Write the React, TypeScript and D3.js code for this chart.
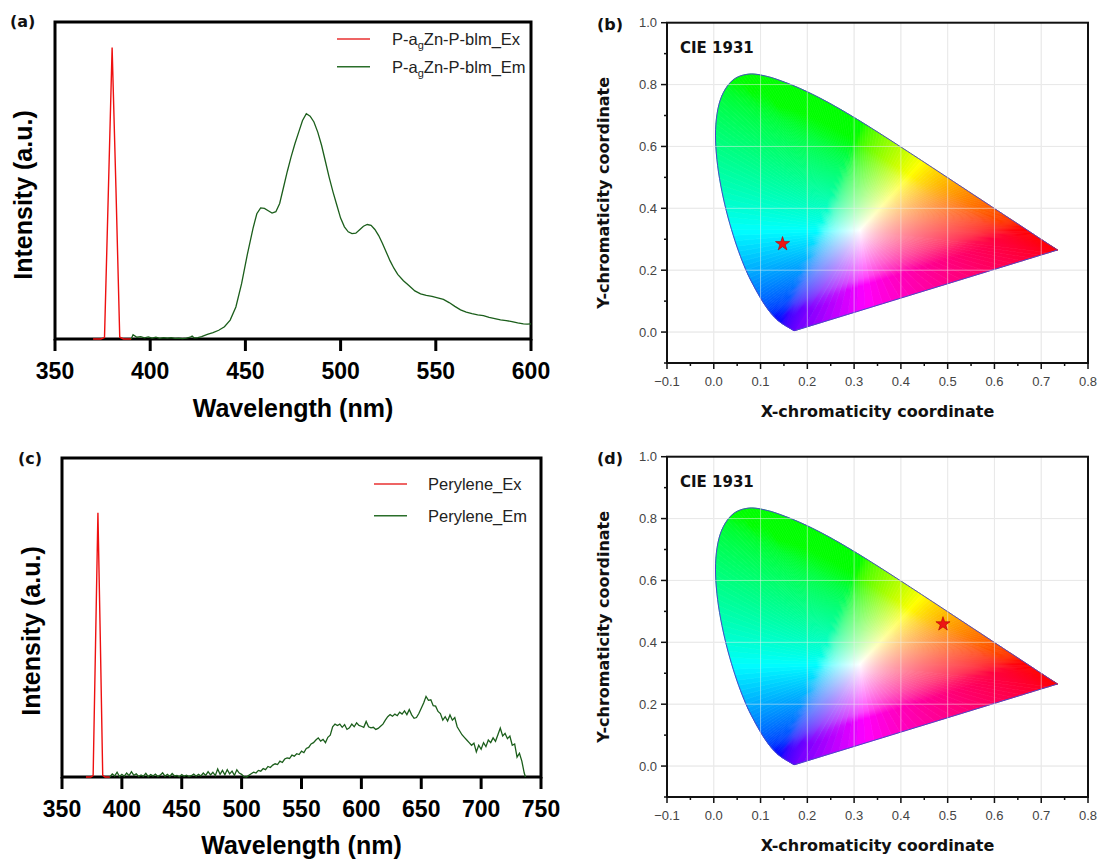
import React from 'react';
import * as d3 from 'd3';

// ---------- Data: panel (a) P-agZn-P-blm ----------
const exAWl = [370, 372, 374, 376, 378, 380, 382, 384, 386, 388, 390];
const exAVal = [0, 0, 0, 0.005, 0.5, 1.0, 0.52, 0.006, 0, 0, 0];

const emAWl = [390, 391, 393, 395, 397, 399, 401, 403, 405, 407, 409, 411, 413, 415, 417, 419, 421, 422, 423, 425, 427, 430, 433, 436, 439, 442, 445, 448, 451, 454, 456, 458, 460, 462, 464, 466, 468, 470, 472, 474, 476, 478, 480, 482, 484, 486, 488, 490, 492, 494, 496, 498, 500, 502, 504, 506, 508, 510, 512, 514, 516, 518, 520, 522, 524, 526, 528, 530, 533, 536, 539, 542, 545, 548, 551, 554, 557, 560, 563, 566, 569, 572, 575, 578, 581, 584, 587, 590, 593, 596, 598, 600];
const emAVal = [0.0, 0.015, 0.006, 0.008, 0.004, 0.007, 0.003, 0.006, 0.002, 0.005, 0.003, 0.005, 0.002, 0.003, 0.001, 0.003, 0.006, 0.01, 0.004, 0.005, 0.008, 0.016, 0.022, 0.03, 0.042, 0.065, 0.11, 0.19, 0.29, 0.38, 0.43, 0.45, 0.448, 0.44, 0.432, 0.437, 0.465, 0.52, 0.575, 0.625, 0.67, 0.71, 0.75, 0.773, 0.765, 0.745, 0.71, 0.665, 0.61, 0.555, 0.505, 0.46, 0.415, 0.385, 0.368, 0.362, 0.363, 0.375, 0.387, 0.393, 0.39, 0.376, 0.355, 0.328, 0.298, 0.268, 0.243, 0.222, 0.2, 0.183, 0.165, 0.155, 0.15, 0.146, 0.141, 0.136, 0.125, 0.112, 0.1, 0.092, 0.087, 0.083, 0.08, 0.074, 0.07, 0.066, 0.063, 0.06, 0.055, 0.052, 0.051, 0.052];

// ---------- Data: panel (c) Perylene ----------
const exCWl = [370, 372, 374, 376, 378, 380, 382, 384, 386, 388, 390];
const exCVal = [0, 0, 0, 0.005, 0.5, 1.0, 0.52, 0.006, 0, 0, 0];

const emCWl = [390, 392, 394, 396, 398, 400, 402, 404, 406, 408, 410, 412, 414, 416, 418, 420, 422, 424, 426, 428, 430, 432, 434, 436, 438, 440, 442, 444, 446, 448, 450, 452, 454, 456, 458, 460, 462, 464, 466, 468, 470, 472, 474, 476, 478, 480, 482, 484, 486, 488, 490, 492, 494, 496, 498, 500, 502, 504, 506, 508, 510, 512, 514, 516, 518, 520, 522, 524, 526, 528, 530, 532, 534, 536, 538, 540, 542, 544, 546, 548, 550, 552, 554, 556, 558, 560, 562, 564, 566, 568, 570, 572, 574, 576, 578, 580, 582, 584, 586, 588, 590, 592, 594, 596, 598, 600, 602, 604, 606, 608, 610, 612, 614, 616, 618, 620, 622, 624, 626, 628, 630, 632, 634, 636, 638, 640, 642, 644, 646, 648, 650, 652, 654, 656, 658, 660, 662, 664, 666, 668, 670, 672, 674, 676, 678, 680, 682, 684, 686, 688, 690, 692, 694, 696, 698, 700, 702, 704, 706, 708, 710, 712, 714, 716, 718, 720, 722, 724, 726, 728, 730, 732, 734, 736, 737];
const emCVal = [0, 0.012, 0.004, 0.018, 0.002, 0.01, 0.003, 0.015, 0.005, 0.02, 0.006, 0.012, 0.002, 0.008, 0.003, 0.014, 0.001, 0.009, 0.004, 0.011, 0.002, 0.007, 0.016, 0.003, 0.01, 0.002, 0.013, 0.004, 0.006, 0.001, 0.009, 0.003, 0.007, 0.002, 0.005, 0.011, 0.003, 0.01, 0.004, 0.015, 0.006, 0.02, 0.008, 0.018, 0.005, 0.03, 0.01, 0.025, 0.008, 0.028, 0.012, 0.022, 0.006, 0.027, 0.015, 0.01, 0.001, 0.0, 0.006, 0.012, 0.018, 0.015, 0.025, 0.022, 0.032, 0.028, 0.04, 0.036, 0.045, 0.05, 0.047, 0.06, 0.055, 0.068, 0.072, 0.07, 0.083, 0.079, 0.088, 0.085, 0.098, 0.092, 0.108, 0.112, 0.125, 0.13, 0.14, 0.148, 0.136, 0.142, 0.13, 0.15, 0.158, 0.19, 0.2, 0.195, 0.2, 0.188, 0.198, 0.18, 0.186, 0.2, 0.19, 0.205, 0.195, 0.192, 0.188, 0.21, 0.19, 0.186, 0.188, 0.18, 0.184, 0.192, 0.2, 0.215, 0.228, 0.236, 0.23, 0.238, 0.232, 0.245, 0.238, 0.25, 0.236, 0.255, 0.235, 0.222, 0.225, 0.24, 0.26, 0.28, 0.305, 0.29, 0.292, 0.27, 0.268, 0.248, 0.24, 0.215, 0.228, 0.212, 0.235, 0.215, 0.225, 0.19, 0.175, 0.16, 0.15, 0.14, 0.13, 0.12, 0.128, 0.095, 0.12, 0.105, 0.13, 0.115, 0.14, 0.13, 0.148, 0.135, 0.16, 0.185, 0.155, 0.165, 0.145, 0.155, 0.12, 0.125, 0.075, 0.09, 0.06, 0.015, 0];

const xTicksA = [350, 400, 450, 500, 550, 600];
const xTicksC = [350, 400, 450, 500, 550, 600, 650, 700, 750];

// ---------- Data: CIE 1931 spectral locus (x, y) ----------
const locusWl = [380, 400, 410, 420, 430, 435, 440, 445, 450, 455, 460, 465, 470, 475, 480, 485, 490, 495, 500, 505, 510, 515, 520, 525, 530, 535, 540, 545, 550, 555, 560, 565, 570, 575, 580, 585, 590, 595, 600, 605, 610, 620, 630, 640, 650, 660, 680, 700];
const locusX = [0.1741, 0.1733, 0.1726, 0.1714, 0.1689, 0.1669, 0.1644, 0.1611, 0.1566, 0.1510, 0.1440, 0.1355, 0.1241, 0.1096, 0.0913, 0.0687, 0.0454, 0.0235, 0.0082, 0.0039, 0.0139, 0.0389, 0.0743, 0.1142, 0.1547, 0.1929, 0.2296, 0.2658, 0.3016, 0.3373, 0.3731, 0.4087, 0.4441, 0.4788, 0.5125, 0.5448, 0.5752, 0.6029, 0.6270, 0.6482, 0.6658, 0.6915, 0.7079, 0.7190, 0.7260, 0.7300, 0.7334, 0.7347];
const locusY = [0.0050, 0.0048, 0.0048, 0.0051, 0.0069, 0.0086, 0.0109, 0.0138, 0.0177, 0.0227, 0.0297, 0.0399, 0.0578, 0.0868, 0.1327, 0.2007, 0.2950, 0.4127, 0.5384, 0.6548, 0.7502, 0.8120, 0.8338, 0.8262, 0.8059, 0.7816, 0.7543, 0.7243, 0.6923, 0.6589, 0.6245, 0.5896, 0.5547, 0.5202, 0.4866, 0.4544, 0.4242, 0.3965, 0.3725, 0.3514, 0.3340, 0.3083, 0.2920, 0.2809, 0.2740, 0.2700, 0.2666, 0.2653];
const whitePoint = [0.3127, 0.329];

const starB = [0.147, 0.285];
const starD = [0.49, 0.459];

const cieXTicks = [-0.1, 0, 0.1, 0.2, 0.3, 0.4, 0.5, 0.6, 0.7, 0.8];
const cieYTicks = [0, 0.2, 0.4, 0.6, 0.8, 1.0];

const ARIAL = "'Liberation Sans', Arial, Helvetica, sans-serif";
const VERD = "'DejaVu Sans', Verdana, sans-serif";

function xyToRgb(x: number, y: number): string {
  const Y = 1;
  const X = x / y;
  const Z = (1 - x - y) / y;
  let r = 3.2406 * X - 1.5372 * Y - 0.4986 * Z;
  let g = -0.9689 * X + 1.8758 * Y + 0.0415 * Z;
  let b = 0.0557 * X - 0.204 * Y + 1.057 * Z;
  r = Math.max(0, r); g = Math.max(0, g); b = Math.max(0, b);
  const m = Math.max(r, g, b) || 1;
  const gam = (c: number) => {
    const v = Math.pow(c / m, 1 / 2.0);
    return Math.round(Math.min(1, Math.max(0, v)) * 255);
  };
  return `rgb(${gam(r)},${gam(g)},${gam(b)})`;
}

function catmull(pts: number[][], sub: number): number[][] {
  const out: number[][] = [];
  const n = pts.length;
  for (let i = 0; i < n - 1; i++) {
    const p0 = pts[Math.max(0, i - 1)], p1 = pts[i], p2 = pts[i + 1], p3 = pts[Math.min(n - 1, i + 2)];
    for (let s = 0; s < sub; s++) {
      const t = s / sub, t2 = t * t, t3 = t2 * t;
      const f = (k: number) => 0.5 * (2 * p1[k] + (-p0[k] + p2[k]) * t + (2 * p0[k] - 5 * p1[k] + 4 * p2[k] - p3[k]) * t2 + (-p0[k] + 3 * p1[k] - 3 * p2[k] + p3[k]) * t3);
      out.push([f(0), f(1)]);
    }
  }
  out.push(pts[n - 1]);
  return out;
}

type SpecProps = {
  left: number; right: number; top: number; bottom: number;
  xDomain: [number, number]; xTicks: number[]; yMax: number;
  exWl: number[]; exVal: number[]; emWl: number[]; emVal: number[];
  legend: React.ReactNode[]; legX1: number; legX2: number; legTextX: number; legY: number[];
  panel: string; panelX: number; panelY: number;
  yTitleX: number; yTitleY: number; tickLabelY: number; xTitleY: number;
};

function SpectrumPanel(p: SpecProps) {
  const x = d3.scaleLinear().domain(p.xDomain).range([p.left, p.right]);
  const y = d3.scaleLinear().domain([0, p.yMax]).range([p.bottom, p.top]);
  const exPath = d3.line<number>().x((_, i) => x(p.exWl[i])).y((d) => y(d))(p.exVal) || '';
  const emPath = d3.line<number>().x((_, i) => x(p.emWl[i])).y((d) => y(d))(p.emVal) || '';
  return (
    <g>
      <text x={p.panelX} y={p.panelY} fontFamily={VERD} fontWeight="bold" fontSize={16} fill="#111">{p.panel}</text>
      <rect x={p.left} y={p.top} width={p.right - p.left} height={p.bottom - p.top} fill="none" stroke="#000" strokeWidth={3} />
      {p.xTicks.map((t) => (
        <g key={t}>
          <line x1={x(t)} x2={x(t)} y1={p.bottom} y2={p.bottom + 12} stroke="#000" strokeWidth={3} />
          <text x={x(t)} y={p.tickLabelY} textAnchor="middle" fontFamily={ARIAL} fontWeight="bold" fontSize={23} fill="#000">{t}</text>
        </g>
      ))}
      <path d={exPath} fill="none" stroke="#ee1010" strokeWidth={1.4} />
      <path d={emPath} fill="none" stroke="#1b5e1b" strokeWidth={1.3} />
      <text x={(p.left + p.right) / 2} y={p.xTitleY} textAnchor="middle" fontFamily={ARIAL} fontWeight="bold" fontSize={25} fill="#000">Wavelength (nm)</text>
      <text transform={`translate(${p.yTitleX},${p.yTitleY}) rotate(-90)`} textAnchor="middle" dominantBaseline="central" fontFamily={ARIAL} fontWeight="bold" fontSize={25} fill="#000">Intensity (a.u.)</text>
      {p.legend.map((lab, i) => (
        <g key={i}>
          <line x1={p.legX1} x2={p.legX2} y1={p.legY[i]} y2={p.legY[i]} stroke={i === 0 ? '#e83030' : '#2a6e2a'} strokeWidth={1.4} />
          <text x={p.legTextX} y={p.legY[i] + 6} fontFamily={ARIAL} fontSize={16.5} fill="#222">{lab}</text>
        </g>
      ))}
    </g>
  );
}

function CiePanel({ top, star, panel }: { top: number; star: number[]; panel: string }) {
  const left = 667, right = 1088;
  const bottom = top + 340.3;
  const x = d3.scaleLinear().domain([-0.1, 0.8]).range([left, right]);
  const y = d3.scaleLinear().domain([-0.1, 1.0]).range([bottom, top]);
  const fmt = d3.format('.1f');

  const locusPts = locusX.map((lx, i) => [lx, locusY[i]]);
  const dense = catmull(locusPts, 6);
  const first = dense[0], last = dense[dense.length - 1];
  const purple: number[][] = [];
  const nP = 30;
  for (let k = 1; k < nP; k++) {
    const t = k / nP;
    purple.push([last[0] + (first[0] - last[0]) * t, last[1] + (first[1] - last[1]) * t]);
  }
  const boundary = dense.concat(purple);
  const n = boundary.length;
  const W = whitePoint;
  const stopsT = [0, 0.03, 0.06, 0.1, 0.14, 0.18, 0.23, 0.28, 0.34, 0.4, 0.5, 0.6, 0.7, 0.8, 0.9, 1];
  const wedges = [] as { id: string; pts: string; x1: number; y1: number; x2: number; y2: number; stops: { o: number; c: string }[] }[];
  for (let i = 0; i < n; i++) {
    const P = boundary[i], Q = boundary[(i + 1) % n];
    const M = [(P[0] + Q[0]) / 2, (P[1] + Q[1]) / 2];
    const stops = stopsT.map((t) => {
      const px = W[0] + (M[0] - W[0]) * t;
      const py = W[1] + (M[1] - W[1]) * t;
      return { o: t, c: xyToRgb(px, py) };
    });
    wedges.push({
      id: `cie-${panel.replace(/[()]/g, '')}-${i}`,
      pts: `${x(W[0])},${y(W[1])} ${x(P[0])},${y(P[1])} ${x(Q[0])},${y(Q[1])}`,
      x1: x(W[0]), y1: y(W[1]), x2: x(M[0]), y2: y(M[1]), stops,
    });
  }
  const outline = (d3.line()(boundary.map((b) => [x(b[0]), y(b[1])] as [number, number])) || '') + 'Z';
  const starPath = d3.symbol().type(d3.symbolStar).size(62)() || '';
  const gridX = cieXTicks.slice(1, -1);
  const gridY = [0, 0.2, 0.4, 0.6, 0.8];
  const minorX = d3.range(-0.05, 0.8, 0.1);
  const minorY = [-0.1, 0.1, 0.3, 0.5, 0.7, 0.9];

  return (
    <g>
      <defs>
        {wedges.map((w) => (
          <linearGradient key={w.id} id={w.id} gradientUnits="userSpaceOnUse" x1={w.x1} y1={w.y1} x2={w.x2} y2={w.y2}>
            {w.stops.map((s, k) => <stop key={k} offset={s.o} stopColor={s.c} />)}
          </linearGradient>
        ))}
      </defs>
      {gridX.map((g) => <line key={'gx' + g} x1={x(g)} x2={x(g)} y1={top} y2={bottom} stroke="#e4e4e4" strokeWidth={1} />)}
      {gridY.map((g) => <line key={'gy' + g} x1={left} x2={right} y1={y(g)} y2={y(g)} stroke="#e4e4e4" strokeWidth={1} />)}
      {wedges.map((w) => (
        <polygon key={w.id} points={w.pts} fill={`url(#${w.id})`} stroke={`url(#${w.id})`} strokeWidth={0.7} strokeLinejoin="round" />
      ))}
      <path d={outline} fill="none" stroke="#4848c8" strokeWidth={1} />
      {gridX.map((g) => <line key={'ox' + g} x1={x(g)} x2={x(g)} y1={top} y2={bottom} stroke="rgba(240,240,240,0.5)" strokeWidth={1} />)}
      {gridY.map((g) => <line key={'oy' + g} x1={left} x2={right} y1={y(g)} y2={y(g)} stroke="rgba(240,240,240,0.5)" strokeWidth={1} />)}
      <path d={starPath} transform={`translate(${x(star[0])},${y(star[1])})`} fill="#ee1515" stroke="#b00000" strokeWidth={0.6} />
      <rect x={left} y={top} width={right - left} height={bottom - top} fill="none" stroke="#111" strokeWidth={2} />
      {cieXTicks.map((t) => (
        <g key={'xt' + t}>
          <line x1={x(t)} x2={x(t)} y1={bottom} y2={bottom + 6} stroke="#111" strokeWidth={1.5} />
          <text x={x(t)} y={bottom + 23} textAnchor="middle" fontFamily={ARIAL} fontSize={13} fill="#444">{fmt(t)}</text>
        </g>
      ))}
      {minorX.map((t) => <line key={'mx' + t} x1={x(t)} x2={x(t)} y1={bottom} y2={bottom + 3} stroke="#111" strokeWidth={1.5} />)}
      {cieYTicks.map((t) => (
        <g key={'yt' + t}>
          <line x1={left} x2={left - 6} y1={y(t)} y2={y(t)} stroke="#111" strokeWidth={1.5} />
          <text x={left - 10} y={y(t) + 4.5} textAnchor="end" fontFamily={ARIAL} fontSize={13} fill="#444">{fmt(t)}</text>
        </g>
      ))}
      {minorY.map((t) => <line key={'my' + t} x1={left} x2={left - 3} y1={y(t)} y2={y(t)} stroke="#111" strokeWidth={1.5} />)}
      <text x={680} y={top + 30} fontFamily={VERD} fontWeight="bold" fontSize={15} fill="#111">CIE 1931</text>
      <text x={597} y={top + 7} fontFamily={VERD} fontWeight="bold" fontSize={16} fill="#111">{panel}</text>
      <text x={(left + right) / 2} y={bottom + 54} textAnchor="middle" fontFamily={VERD} fontWeight="bold" fontSize={16} fill="#111">X-chromaticity coordinate</text>
      <text transform={`translate(${603},${(top + bottom) / 2}) rotate(-90)`} textAnchor="middle" dominantBaseline="central" fontFamily={VERD} fontWeight="bold" fontSize={16} fill="#111">Y-chromaticity coordinate</text>
    </g>
  );
}

const legendA = [
  <>P-a<tspan dy={4} fontSize={11}>g</tspan><tspan dy={-4}>Zn-P-blm_Ex</tspan></>,
  <>P-a<tspan dy={4} fontSize={11}>g</tspan><tspan dy={-4}>Zn-P-blm_Em</tspan></>,
];
const legendC = ['Perylene_Ex', 'Perylene_Em'];

export default function App() {
  return (
    <svg width={1100} height={861} style={{ position: 'absolute', left: 0, top: 0, background: '#fff' }}>
      <rect width={1100} height={861} fill="#fff" />
      <SpectrumPanel
        left={55} right={531} top={22} bottom={339}
        xDomain={[350, 600]} xTicks={xTicksA} yMax={1.088}
        exWl={exAWl} exVal={exAVal} emWl={emAWl} emVal={emAVal}
        legend={legendA} legX1={337} legX2={370} legTextX={392} legY={[39, 66.7]}
        panel="(a)" panelX={10} panelY={27}
        yTitleX={23} yTitleY={195} tickLabelY={379} xTitleY={417}
      />
      <SpectrumPanel
        left={62} right={541} top={458} bottom={777}
        xDomain={[350, 750]} xTicks={xTicksC} yMax={1.207}
        exWl={exCWl} exVal={exCVal} emWl={emCWl} emVal={emCVal}
        legend={legendC} legX1={374} legX2={407} legTextX={428} legY={[484, 515.7]}
        panel="(c)" panelX={18} panelY={464}
        yTitleX={31} yTitleY={631} tickLabelY={817} xTitleY={854}
      />
      <CiePanel top={22.7} star={starB} panel="(b)" />
      <CiePanel top={456.7} star={starD} panel="(d)" />
    </svg>
  );
}
